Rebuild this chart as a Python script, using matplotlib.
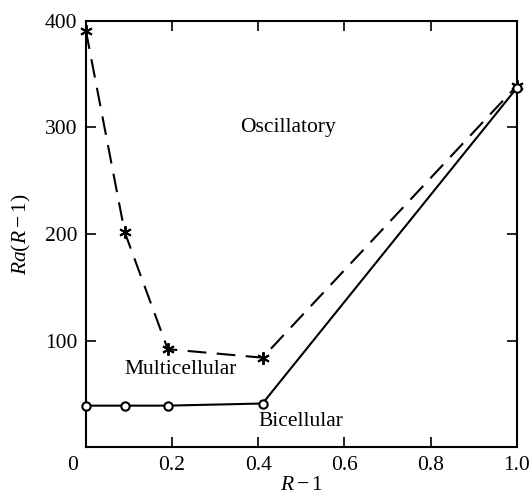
import matplotlib.pyplot as plt
import matplotlib.transforms as mtransforms

plt.rcParams['font.family'] = ['Liberation Serif', 'DejaVu Serif']
plt.rcParams['mathtext.fontset'] = 'custom'
plt.rcParams['mathtext.it'] = 'Liberation Serif:italic'
plt.rcParams['mathtext.rm'] = 'Liberation Serif'

# oscillatory onset (dashed, stars)
osc_x = [0.0, 0.09, 0.19, 0.41, 1.0]
osc_y = [391, 202, 92, 84, 339]

# bicellular -> multicellular boundary (solid, circles)
cell_x = [0.0, 0.09, 0.19, 0.41, 1.0]
cell_y = [39, 39, 39, 41, 337]

xticks = [0, 0.2, 0.4, 0.6, 0.8, 1.0]
xtick_labels = ['0', '0.2', '0.4', '0.6', '0.8', '1.0']
yticks = [100, 200, 300, 400]

fig = plt.figure(figsize=(5.3, 4.98), dpi=100)
ax = fig.add_axes([0.162, 0.102, 0.813, 0.856])

ax.plot(osc_x, osc_y, color='black', lw=1.5, ls=(0, (9, 5)),
        marker=(6, 2, 0), ms=9, mew=1.4, clip_on=False, zorder=3)
ax.plot(cell_x, cell_y, color='black', lw=1.5, clip_on=False, zorder=3,
        marker='o', ms=6, mfc='white', mew=1.5)

ax.set_xlim(0, 1.0)
ax.set_ylim(0, 400)
ax.set_xticks(xticks)
ax.set_xticklabels(xtick_labels)
ax.set_yticks(yticks)
ax.tick_params(direction='in', length=7, width=1.2, top=True, right=True,
               labelsize=15.5, pad=6)
for s in ax.spines.values():
    s.set_linewidth(1.5)

# nudge the "0" label off the corner
lbl0 = ax.get_xticklabels()[0]
lbl0.set_transform(lbl0.get_transform() +
                   mtransforms.ScaledTranslation(-0.13, 0, fig.dpi_scale_trans))

ax.text(0.47, 300, 'Oscillatory', fontsize=15.5, ha='center', va='center')
ax.text(0.22, 73, 'Multicellular', fontsize=15.5, ha='center', va='center')
ax.text(0.50, 24, 'Bicellular', fontsize=15.5, ha='center', va='center')

ax.set_xlabel(r'$R-1$', fontsize=15.5, labelpad=1)
ax.set_ylabel(r'$Ra(R-1)$', fontsize=15.5, labelpad=9)

fig.savefig('out.png', dpi=100)
